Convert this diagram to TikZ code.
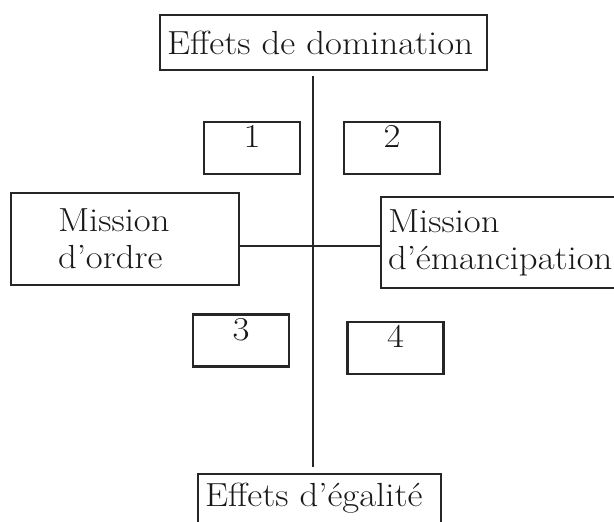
\documentclass[tikz,border=0pt]{standalone}
\usepackage{fontspec}
\setmainfont{Latin Modern Roman}[FakeStretch=1.1]
\usepackage{tikz}
\usetikzlibrary{positioning}

\begin{document}
\begin{tikzpicture}[x=0.5pt, y=-0.5pt, every node/.style={font=\fontsize{16.7}{18.5}\selectfont, text=black!90}, titlenode/.style={rectangle, draw=black!85, line width=1.1pt, align=left}, numnode/.style={rectangle, draw=black!85, line width=1.1pt, minimum width=48pt, inner sep=0pt, text height=13pt, text depth=13pt}, missionnode/.style={rectangle, draw=black!85, line width=1.1pt, minimum width=114pt, align=left}]

    \useasboundingbox (0,0) rectangle (614,522);

    %Nodes
    \node[titlenode, minimum width=161.5pt, minimum height=27.5pt, text width=156.5pt](domination) at (323.5,42.5){Effets de domination};
    \node[numnode](one) at (252,148){1};
    \node[numnode](two) at (392,148){2};
    \node[missionnode, minimum height=46pt, text width=67pt](ordre) at (125,239){Mission\\d’ordre};
    \node[missionnode, minimum height=45.5pt, text width=111pt](emancipation) at (499,242.5){Mission\\d’émancipation};
    \node[numnode](three) at (241,340.5){3};
    \node[numnode](four) at (395.5,348){4};
    \node[titlenode, anchor=north, minimum width=118.5pt, text width=114.5pt, inner ysep=2pt, text height=14pt, text depth=30pt](egalite) at (319.5,473){Effets d’égalité};
    \coordinate (centre) at (313,246);

    %Lines
    \draw[line width=1pt, draw=black!85, shorten <=2.5pt, shorten >=3pt] (domination.south -| centre) -- (egalite.north -| centre);
    \draw[line width=1pt, draw=black!85] (ordre.east |- centre) -- (emancipation.west |- centre);

\end{tikzpicture}
\end{document}
